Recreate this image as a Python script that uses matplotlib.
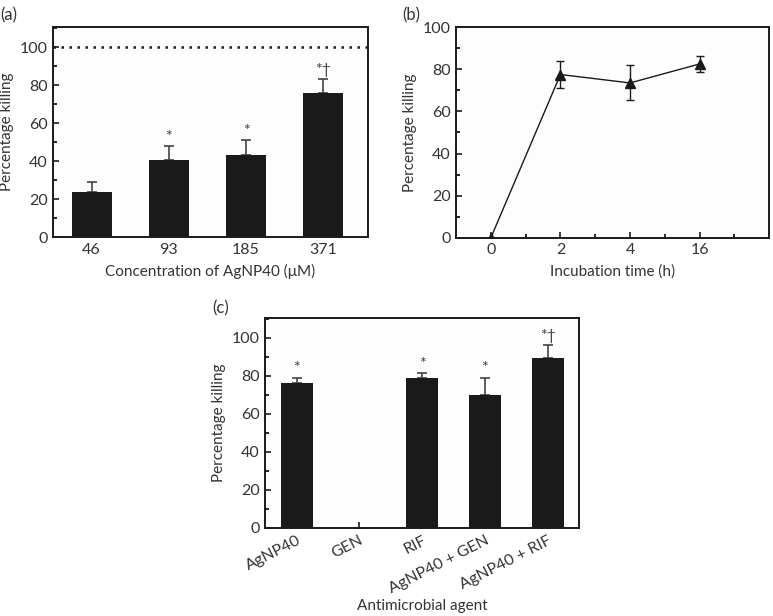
import matplotlib
matplotlib.use("Agg")
import matplotlib.pyplot as plt
from matplotlib.ticker import MultipleLocator, FixedLocator
import numpy as np

plt.rcParams['font.family'] = ['Lato', 'DejaVu Sans']
plt.rcParams['font.size'] = 11

# ---- data ----
conc_labels = ['46', '93', '185', '371']
conc_values = [24, 40.5, 43, 76]
conc_err = [5, 7.5, 8, 7]
conc_marks = ['', '*', '*', '*†']

time_labels = ['0', '2', '4', '16']
time_values = [0, 77.5, 73.5, 82.5]
time_err = [0, 6.5, 8.3, 3.8]

agent_labels = ['AgNP40', 'GEN', 'RIF', 'AgNP40 + GEN', 'AgNP40 + RIF']
agent_values = [76, 0, 79, 70, 89.5]
agent_err = [3, 0, 2.5, 9, 6.5]
agent_marks = ['*', '', '*', '*', '*†']

BAR = '#1a1a1a'
ERR = '#444444'
MARK = '#444444'
TXT = '#333333'

fig = plt.figure(figsize=(7.73, 6.16), dpi=100)

def style(ax, ymax, xlim):
    ax.set_facecolor('#fdfdfd')
    for s in ax.spines.values():
        s.set_linewidth(1.4)
        s.set_color('#1a1a1a')
    ax.set_ylim(0, ymax)
    ax.set_xlim(*xlim)
    ax.yaxis.set_major_locator(MultipleLocator(20))
    ax.yaxis.set_minor_locator(MultipleLocator(10))
    ax.tick_params(axis='both', which='major', direction='in', length=4, width=1.2,
                   labelsize=11.5, colors='#1a1a1a', labelcolor=TXT, pad=4)
    ax.tick_params(axis='y', which='minor', direction='in', length=3, width=1.2)
    ax.tick_params(axis='x', which='minor', direction='in', length=3, width=1.2)
    ax.set_ylabel('Percentage killing', fontsize=11, color=TXT, labelpad=4)

# ---- (a) ----
axa = fig.add_axes([0.0686, 0.615, 0.4074, 0.341])
xa = np.arange(len(conc_labels))
axa.bar(xa, conc_values, width=0.52, color=BAR, zorder=2)
axa.errorbar(xa, conc_values, yerr=[np.zeros(len(conc_err)), conc_err], fmt='none',
             ecolor=ERR, elinewidth=1.2, capsize=3.5, capthick=1.2, zorder=1)
axa.axhline(100, color='#1a1a1a', linestyle=(0, (1, 2.2)), linewidth=1.8, zorder=1)
style(axa, 110.5, (-0.5, 3.58))
axa.set_xticks(xa)
axa.set_xticklabels(conc_labels)
for x, v, e, m in zip(xa, conc_values, conc_err, conc_marks):
    if m:
        axa.text(x, v + e + 1.2, m, ha='center', va='bottom', fontsize=11.5, color=MARK)
axa.set_xlabel('Concentration of AgNP40 (μM)', fontsize=11, color=TXT, labelpad=5)
fig.text(0.0, 0.988, '(a)', fontsize=12, va='top', ha='left', color=TXT)

# ---- (b) ----
axb = fig.add_axes([0.590, 0.614, 0.405, 0.342])
xb = np.arange(len(time_labels))
axb.errorbar(xb, time_values, yerr=time_err, fmt='-^', color='#1a1a1a',
             markersize=7, linewidth=1.0, ecolor='#1a1a1a', elinewidth=1.0,
             capsize=3, capthick=1.0)
style(axb, 100, (-0.5, 4.0))
axb.set_xticks(xb)
axb.set_xticklabels(time_labels)
axb.xaxis.set_minor_locator(FixedLocator([0.5, 1.5, 2.5, 3.5]))
axb.set_xlabel('Incubation time (h)', fontsize=11, color=TXT, labelpad=5)
fig.text(0.520, 0.988, '(b)', fontsize=12, va='top', ha='left', color=TXT)

# ---- (c) ----
axc = fig.add_axes([0.343, 0.143, 0.406, 0.341])
xc = np.arange(len(agent_labels))
axc.bar(xc, agent_values, width=0.51, color=BAR, zorder=2)
axc.errorbar(xc, agent_values, yerr=[np.zeros(len(agent_err)), agent_err], fmt='none',
             ecolor=ERR, elinewidth=1.2, capsize=3.5, capthick=1.2, zorder=1)
style(axc, 110.5, (-0.5, 4.5))
axc.set_xticks(xc)
axc.set_xticklabels(agent_labels, rotation=27, ha='right', rotation_mode='anchor')
for x, v, e, m in zip(xc, agent_values, agent_err, agent_marks):
    if m:
        axc.text(x, v + e + 1.2, m, ha='center', va='bottom', fontsize=11.5, color=MARK)
axc.set_xlabel('Antimicrobial agent', fontsize=11, color=TXT)
axc.xaxis.set_label_coords(0.5, -0.34)
fig.text(0.274, 0.512, '(c)', fontsize=12, va='top', ha='left', color=TXT)

fig.savefig('out.png', dpi=100)
